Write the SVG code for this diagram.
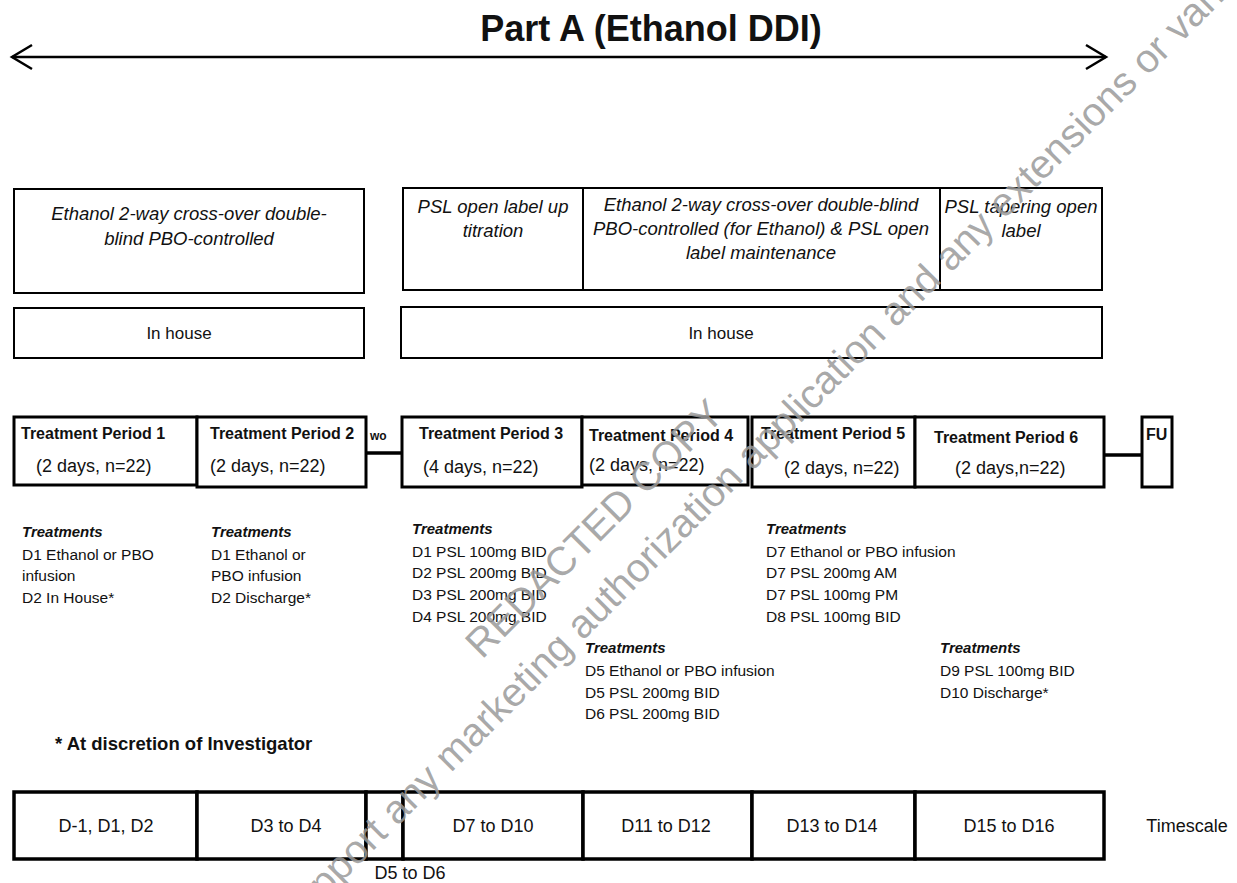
<svg xmlns="http://www.w3.org/2000/svg" width="1237" height="883" viewBox="0 0 1237 883">
<defs>
<style>
text{font-family:"Liberation Sans",Arial,sans-serif;fill:#111}
.box{fill:#fff;stroke:#000;stroke-width:2}
.tbox{fill:#fff;stroke:#000;stroke-width:3}
.sbox{fill:#fff;stroke:#000;stroke-width:3.5}
.it{font-style:italic;font-size:18.5px;text-anchor:middle}
.ih{font-size:17px;text-anchor:middle}
.tp{font-weight:bold;font-size:16px}
.nd{font-size:18px}
.hd{font-weight:bold;font-style:italic;font-size:15px}
.tr{font-size:15.5px}
.ts{font-size:18px;text-anchor:middle}
.wm{font-size:40px;fill:#9a9a9a;fill-opacity:0.85}
.ln{stroke:#000;fill:none}
</style>
<marker id="chev" viewBox="0 0 24 26" refX="21" refY="13" markerWidth="24" markerHeight="26" markerUnits="userSpaceOnUse" orient="auto-start-reverse" overflow="visible">
<path d="M1,1 L21,13 L1,25" fill="none" stroke="#000" stroke-width="2.5"/>
</marker>
</defs>
<rect width="1237" height="883" fill="#fff"/>

<g id="title">
<text x="651" y="41" font-size="36" font-weight="bold" text-anchor="middle">Part A (Ethanol DDI)</text>
</g>

<g id="connectors">
<line class="ln" x1="12" y1="57" x2="1106" y2="57" stroke-width="2.5" marker-start="url(#chev)" marker-end="url(#chev)"/>
<line class="ln" x1="366" y1="453" x2="402" y2="453" stroke-width="3.5"/>
<line class="ln" x1="1104" y1="455" x2="1142" y2="455" stroke-width="3.5"/>
</g>

<g id="design-part1">
<rect class="box" x="14" y="189" width="350" height="104"/>
<text class="it" x="189" y="220">Ethanol 2-way cross-over double-</text>
<text class="it" x="189" y="245">blind PBO-controlled</text>
</g>
<g id="design-part2">
<rect class="box" x="403" y="188" width="180" height="102"/>
<text class="it" x="493" y="213">PSL open label up</text>
<text class="it" x="493" y="237">titration</text>
</g>
<g id="design-part3">
<rect class="box" x="583" y="188" width="357" height="102"/>
<text class="it" x="761" y="211">Ethanol 2-way cross-over double-blind</text>
<text class="it" x="761" y="235">PBO-controlled (for Ethanol) &amp; PSL open</text>
<text class="it" x="761" y="259">label maintenance</text>
</g>
<g id="design-part4">
<rect class="box" x="940" y="188" width="162" height="102"/>
<text class="it" x="1021" y="213">PSL tapering open</text>
<text class="it" x="1021" y="237">label</text>
</g>

<g id="inhouse1">
<rect class="box" x="14" y="308" width="350" height="50"/>
<text class="ih" x="179" y="339">In house</text>
</g>
<g id="inhouse2">
<rect class="box" x="401" y="307" width="701" height="51"/>
<text class="ih" x="721" y="339">In house</text>
</g>

<g id="tp1">
<rect class="tbox" x="14" y="417" width="183" height="68"/>
<text class="tp" x="21" y="439">Treatment Period 1</text>
<text class="nd" x="36" y="472">(2 days, n=22)</text>
</g>
<g id="tp2">
<rect class="tbox" x="197" y="417" width="169" height="70"/>
<text class="tp" x="210" y="439">Treatment Period 2</text>
<text class="nd" x="210" y="472">(2 days, n=22)</text>
</g>
<g id="wo">
<text x="370" y="440" font-size="12" font-weight="bold">wo</text>
</g>
<g id="tp3">
<rect class="tbox" x="402" y="417" width="180" height="70"/>
<text class="tp" x="419" y="439">Treatment Period 3</text>
<text class="nd" x="423" y="473">(4 days, n=22)</text>
</g>
<g id="tp4">
<rect class="tbox" x="582" y="417" width="166" height="68"/>
<text class="tp" x="589" y="441">Treatment Period 4</text>
<text class="nd" x="589" y="471">(2 days, n=22)</text>
</g>
<g id="tp5">
<rect class="tbox" x="752" y="417" width="163" height="70"/>
<text class="tp" x="761" y="439">Treatment Period 5</text>
<text class="nd" x="784" y="474">(2 days, n=22)</text>
</g>
<g id="tp6">
<rect class="tbox" x="915" y="417" width="189" height="70"/>
<text class="tp" x="934" y="443">Treatment Period 6</text>
<text class="nd" x="955" y="474">(2 days,n=22)</text>
</g>
<g id="fu">
<rect class="tbox" x="1142" y="417" width="30" height="70"/>
<text class="tp" x="1146" y="440" font-size="14">FU</text>
</g>

<g id="treat1">
<text class="hd" x="22" y="537">Treatments</text>
<text class="tr" x="22" y="560">D1 Ethanol or PBO</text>
<text class="tr" x="22" y="581">infusion</text>
<text class="tr" x="22" y="603">D2 In House*</text>
</g>
<g id="treat2">
<text class="hd" x="211" y="537">Treatments</text>
<text class="tr" x="211" y="560">D1 Ethanol or</text>
<text class="tr" x="211" y="581">PBO infusion</text>
<text class="tr" x="211" y="603">D2 Discharge*</text>
</g>
<g id="treat3">
<text class="hd" x="412" y="534">Treatments</text>
<text class="tr" x="412" y="557">D1 PSL 100mg BID</text>
<text class="tr" x="412" y="578">D2 PSL 200mg BID</text>
<text class="tr" x="412" y="600">D3 PSL 200mg BID</text>
<text class="tr" x="412" y="622">D4 PSL 200mg BID</text>
</g>
<g id="treat4">
<text class="hd" x="766" y="534">Treatments</text>
<text class="tr" x="766" y="557">D7 Ethanol or PBO infusion</text>
<text class="tr" x="766" y="578">D7 PSL 200mg AM</text>
<text class="tr" x="766" y="600">D7 PSL 100mg PM</text>
<text class="tr" x="766" y="622">D8 PSL 100mg BID</text>
</g>
<g id="treat5">
<text class="hd" x="585" y="653">Treatments</text>
<text class="tr" x="585" y="676">D5 Ethanol or PBO infusion</text>
<text class="tr" x="585" y="698">D5 PSL 200mg BID</text>
<text class="tr" x="585" y="719">D6 PSL 200mg BID</text>
</g>
<g id="treat6">
<text class="hd" x="940" y="653">Treatments</text>
<text class="tr" x="940" y="676">D9 PSL 100mg BID</text>
<text class="tr" x="940" y="698">D10 Discharge*</text>
</g>

<g id="footnote">
<text x="55" y="750" font-size="18.5" font-weight="bold">* At discretion of Investigator</text>
</g>

<g id="timescale">
<rect class="sbox" x="14" y="792" width="183" height="67"/>
<text class="ts" x="106" y="832">D-1, D1, D2</text>
<rect class="sbox" x="197" y="792" width="169" height="67"/>
<text class="ts" x="286" y="832">D3 to D4</text>
<rect class="sbox" x="366" y="792" width="37" height="67"/>
<rect class="sbox" x="403" y="792" width="180" height="67"/>
<text class="ts" x="493" y="832">D7 to D10</text>
<rect class="sbox" x="583" y="792" width="169" height="67"/>
<text class="ts" x="666" y="832">D11 to D12</text>
<rect class="sbox" x="752" y="792" width="163" height="67"/>
<text class="ts" x="832" y="832">D13 to D14</text>
<rect class="sbox" x="915" y="792" width="189" height="67"/>
<text class="ts" x="1009" y="832">D15 to D16</text>
<text class="ts" x="1187" y="832">Timescale</text>
<text class="ts" x="410" y="879" font-size="16">D5 to D6</text>
</g>

<g id="watermark">
<text class="wm" transform="translate(482,660) rotate(-45)">REDACTED COPY</text>
<text class="wm" transform="translate(295,929) rotate(-45)">support any marketing authorization application and any extensions or variations thereof.</text>
</g>
</svg>
